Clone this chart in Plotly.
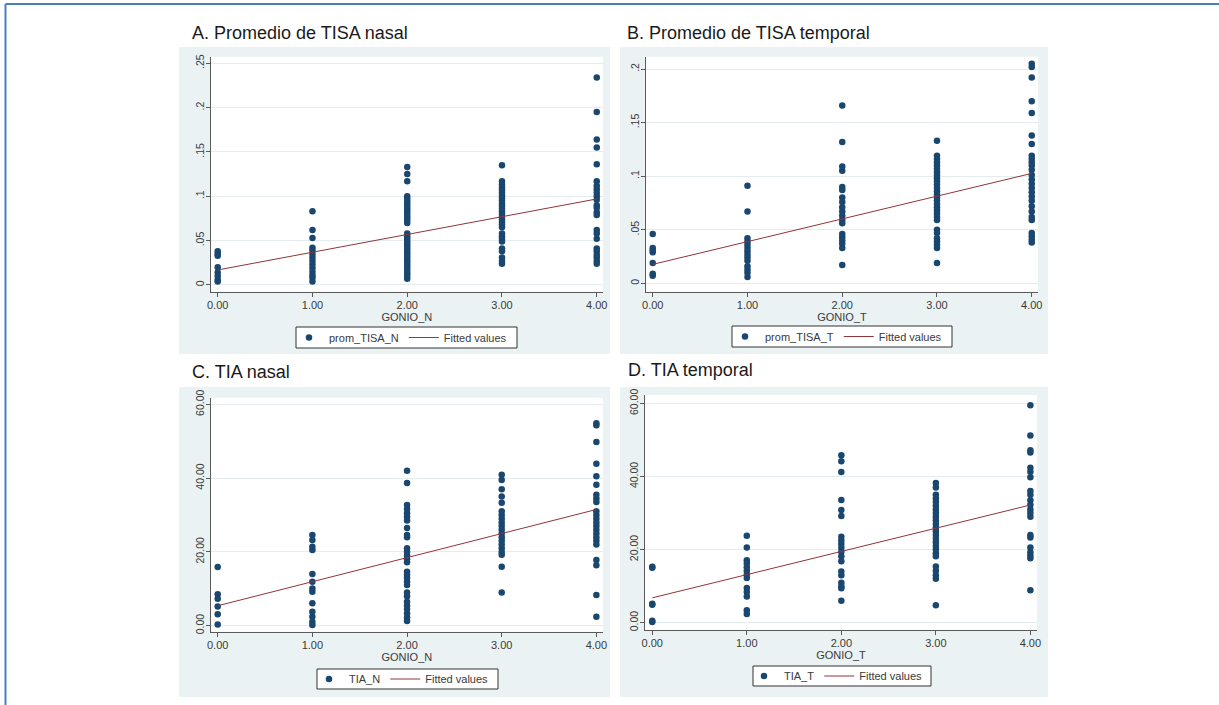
import plotly.graph_objects as go

W, H = 1219, 705

# ---------------- data ----------------
gonio_levels = [0, 1, 2, 3, 4]
x_tick_text = ["0.00", "1.00", "2.00", "3.00", "4.00"]

panel_titles = ["A. Promedio de TISA nasal", "B. Promedio de TISA temporal",
                "C. TIA nasal", "D. TIA temporal"]
x_titles = ["GONIO_N", "GONIO_T", "GONIO_N", "GONIO_T"]
series_names = ["prom_TISA_N", "prom_TISA_T", "TIA_N", "TIA_T"]
fit_name = "Fitted values"

# y ticks
tisa_n_ticks = [0, 0.05, 0.10, 0.15, 0.20, 0.25]
tisa_n_ticktext = ["0", ".05", ".1", ".15", ".2", ".25"]
tisa_t_ticks = [0, 0.05, 0.10, 0.15, 0.20]
tisa_t_ticktext = ["0", ".05", ".1", ".15", ".2"]
tia_ticks = [0, 20, 40, 60]
tia_ticktext = ["0.00", "20.00", "40.00", "60.00"]

# Panel A: prom_TISA_N by GONIO_N
a_g0 = [0.038, 0.035, 0.033, 0.020, 0.014, 0.010, 0.006, 0.004]
a_g1 = [0.083, 0.062, 0.053, 0.042, 0.039, 0.035, 0.031, 0.027, 0.023, 0.019,
        0.015, 0.011, 0.008, 0.004]
a_g2 = [0.133, 0.125, 0.117, 0.100, 0.097, 0.094, 0.091, 0.088, 0.085, 0.082,
        0.079, 0.076, 0.073, 0.070, 0.058, 0.055, 0.052, 0.049, 0.046, 0.043,
        0.040, 0.037, 0.034, 0.031, 0.028, 0.025, 0.022, 0.019, 0.016, 0.013,
        0.010, 0.007]
a_g3 = [0.135, 0.117, 0.113, 0.110, 0.107, 0.104, 0.101, 0.098, 0.095, 0.092,
        0.089, 0.086, 0.083, 0.080, 0.077, 0.074, 0.071, 0.068, 0.065, 0.058,
        0.055, 0.052, 0.049, 0.041, 0.038, 0.031, 0.027, 0.024]
a_g4 = [0.234, 0.195, 0.164, 0.155, 0.136, 0.117, 0.112, 0.108, 0.104, 0.100,
        0.096, 0.090, 0.087, 0.082, 0.079, 0.062, 0.058, 0.052, 0.041, 0.038,
        0.034, 0.031, 0.027, 0.024]
fit_a = [0.0169, 0.0970]

# Panel B: prom_TISA_T by GONIO_T
b_g0 = [0.046, 0.033, 0.031, 0.029, 0.019, 0.009, 0.007]
b_g1 = [0.091, 0.067, 0.042, 0.039, 0.036, 0.033, 0.030, 0.027, 0.024, 0.021,
        0.016, 0.013, 0.010, 0.006]
b_g2 = [0.166, 0.132, 0.109, 0.105, 0.090, 0.087, 0.080, 0.076, 0.071, 0.067,
        0.063, 0.059, 0.056, 0.046, 0.043, 0.040, 0.037, 0.033, 0.017]
b_g3 = [0.133, 0.119, 0.116, 0.113, 0.110, 0.107, 0.104, 0.101, 0.098, 0.095,
        0.092, 0.089, 0.086, 0.083, 0.080, 0.077, 0.074, 0.071, 0.068, 0.065,
        0.062, 0.059, 0.050, 0.047, 0.042, 0.039, 0.036, 0.033, 0.019]
b_g4 = [0.205, 0.202, 0.192, 0.170, 0.159, 0.138, 0.130, 0.119, 0.116, 0.113,
        0.110, 0.106, 0.101, 0.097, 0.093, 0.089, 0.085, 0.081, 0.077, 0.072,
        0.067, 0.062, 0.059, 0.047, 0.044, 0.041, 0.038]
fit_b = [0.0177, 0.1026]

# Panel C: TIA_N by GONIO_N
c_g0 = [15.9, 8.5, 7.3, 5.2, 3.1, 0.3]
c_g1 = [24.6, 23.2, 21.4, 20.5, 14.0, 11.9, 10.1, 9.2, 6.1, 3.8, 2.4, 1.1, 0.2]
c_g2 = [42.0, 38.7, 32.7, 31.6, 30.5, 29.5, 28.5, 26.5, 24.6, 24.0, 21.0, 20.0,
        19.0, 18.0, 17.2, 14.6, 13.8, 13.0, 12.0, 11.0, 9.0, 8.0, 6.5, 5.5, 4.5,
        3.3, 2.2, 1.3]
c_g3 = [40.9, 39.5, 37.0, 35.0, 33.3, 31.0, 30.0, 29.0, 28.0, 27.0, 26.0, 25.0,
        24.0, 23.0, 22.0, 21.0, 20.0, 19.2, 16.0, 9.0]
c_g4 = [54.9, 54.3, 49.8, 43.9, 40.5, 38.2, 35.5, 34.5, 33.5, 31.0, 30.0, 29.0,
        28.0, 27.0, 26.0, 25.0, 24.0, 23.0, 22.0, 17.8, 16.4, 8.3, 2.4]
fit_c = [5.4, 31.5]

# Panel D: TIA_T by GONIO_T
d_g0 = [15.3, 15.0, 5.2, 4.9, 0.5, 0.2]
d_g1 = [23.8, 20.6, 17.1, 16.2, 15.2, 14.2, 13.2, 12.2, 9.5, 8.4, 7.2, 3.4, 2.4]
d_g2 = [45.8, 44.2, 41.2, 33.6, 30.8, 29.2, 23.5, 22.5, 21.5, 20.5, 19.4, 18.2,
        16.8, 14.0, 13.0, 10.9, 10.0, 9.4, 6.0]
d_g3 = [38.2, 37.0, 35.0, 34.0, 33.0, 32.0, 31.0, 30.0, 29.0, 28.0, 27.0, 26.0,
        25.0, 24.0, 23.0, 22.0, 21.0, 20.0, 19.0, 18.2, 15.4, 14.2, 13.0, 12.0, 4.8]
d_g4 = [59.5, 51.2, 47.2, 46.6, 42.4, 41.3, 39.8, 36.0, 35.0, 33.5, 32.3, 31.0,
        30.0, 29.0, 24.0, 23.3, 20.6, 19.3, 18.4, 17.6, 8.9]
fit_d = [6.8, 32.2]

# ---------------- layout geometry (pixels) ----------------
FONT = "Liberation Sans, Arial, Helvetica, sans-serif"
NAVY = "#1a476f"
MAROON = "#90353b"
REGION = "#eaf2f3"
AXIS = "#5a5a5a"
TXT = "#3a3a3a"

panels = [
    dict(groups=[a_g0, a_g1, a_g2, a_g3, a_g4], fit=fit_a,
         plot=(210.7, 56.7, 603, 291.7), region=(179, 47, 610, 354),
         xr=[-0.074, 4.066], yr=[-0.0076, 0.2574],
         yt=tisa_n_ticks, ytt=tisa_n_ticktext,
         title_xy=(190, 33), legend_box=(296, 327, 517, 348)),
    dict(groups=[b_g0, b_g1, b_g2, b_g3, b_g4], fit=fit_b,
         plot=(646, 56.7, 1038, 291.7), region=(620, 47, 1048, 354),
         xr=[-0.071, 4.066], yr=[-0.0078, 0.2115],
         yt=tisa_t_ticks, ytt=tisa_t_ticktext,
         title_xy=(625, 33), legend_box=(732, 326, 952, 347)),
    dict(groups=[c_g0, c_g1, c_g2, c_g3, c_g4], fit=fit_c,
         plot=(210.7, 397.7, 603, 631.7), region=(179, 387, 610, 697),
         xr=[-0.074, 4.07], yr=[-1.63, 61.8],
         yt=tia_ticks, ytt=tia_ticktext,
         title_xy=(190, 372), legend_box=(317, 669, 498, 689)),
    dict(groups=[d_g0, d_g1, d_g2, d_g3, d_g4], fit=fit_d,
         plot=(645, 395, 1037, 630), region=(620, 387, 1048, 697),
         xr=[-0.077, 4.07], yr=[-2.0, 62.3],
         yt=tia_ticks, ytt=tia_ticktext,
         title_xy=(626, 370), legend_box=(753, 666, 931, 686)),
]

fig = go.Figure()
shapes = []
annotations = []
layout = {}

for i, p in enumerate(panels):
    n = i + 1
    sfx = "" if n == 1 else str(n)
    xa, ya = "x" + sfx, "y" + sfx
    leg = "legend" + sfx

    xs, ys = [], []
    for lvl, vals in zip(gonio_levels, p["groups"]):
        xs += [lvl] * len(vals)
        ys += vals

    fig.add_trace(go.Scatter(
        x=xs, y=ys, mode="markers", name=series_names[i],
        marker=dict(color=NAVY, size=6.5, line=dict(width=0)),
        xaxis=xa, yaxis=ya, legend=leg))
    fig.add_trace(go.Scatter(
        x=[gonio_levels[0], gonio_levels[-1]], y=p["fit"], mode="lines",
        name=fit_name, line=dict(color=MAROON, width=1),
        xaxis=xa, yaxis=ya, legend=leg))

    l, t, r, b = p["plot"]
    layout["xaxis" + sfx] = dict(
        domain=[l / W, r / W], anchor=ya, range=p["xr"], automargin=False,
        tickvals=gonio_levels, ticktext=x_tick_text,
        showgrid=False, zeroline=False, showline=True, linecolor=AXIS, linewidth=1,
        ticks="outside", ticklen=4, tickcolor=AXIS, tickwidth=1,
        ticklabelstandoff=-1,
        tickfont=dict(family=FONT, size=11, color=TXT),
        title=dict(text=x_titles[i], font=dict(family=FONT, size=11, color=TXT), standoff=0),
        fixedrange=True)
    layout["yaxis" + sfx] = dict(
        domain=[1 - b / H, 1 - t / H], anchor=xa, range=p["yr"], automargin=False,
        tickvals=p["yt"], ticktext=p["ytt"], tickangle=-90,
        showgrid=True, gridcolor="#e4ecef", gridwidth=1,
        zeroline=False, showline=True, linecolor=AXIS, linewidth=1,
        ticks="outside", ticklen=4, tickcolor=AXIS, tickwidth=1,
        ticklabelstandoff=-2,
        tickfont=dict(family=FONT, size=10.5, color=TXT),
        fixedrange=True)

    # legend: box drawn as a shape, legend items centred in it
    bl, bt, br, bb = p["legend_box"]
    shapes.append(dict(type="rect", xref="paper", yref="paper",
                       x0=bl / W, x1=br / W, y0=1 - bb / H, y1=1 - bt / H,
                       fillcolor="white", line=dict(color="#333333", width=1),
                       layer="above"))
    layout[leg] = dict(
        orientation="h", x=((bl + br) / 2 - 6) / W, xanchor="center",
        y=1 - ((bt + bb) / 2) / H, yanchor="middle",
        bgcolor="rgba(0,0,0,0)", borderwidth=0,
        font=dict(family=FONT, size=11, color=TXT),
        itemwidth=30, tracegroupgap=0)

    rl, rt, rr, rb = p["region"]
    shapes.append(dict(type="rect", xref="paper", yref="paper",
                       x0=rl / W, x1=rr / W, y0=1 - rb / H, y1=1 - rt / H,
                       fillcolor=REGION, line=dict(width=0), layer="below"))
    shapes.append(dict(type="rect", xref=xa + " domain", yref=ya + " domain",
                       x0=0, x1=1, y0=0, y1=1,
                       fillcolor="white", line=dict(width=0), layer="below"))

    tx, ty = p["title_xy"]
    annotations.append(dict(text=panel_titles[i], xref="paper", yref="paper",
                            x=tx / W, y=1 - ty / H, xanchor="left", yanchor="middle",
                            showarrow=False,
                            font=dict(family=FONT, size=18, color="#1a1a1a")))

# outer frame (top and left edges)
shapes.append(dict(type="line", xref="paper", yref="paper",
                   x0=5.5 / W, x1=1, y0=1 - 4 / H, y1=1 - 4 / H,
                   line=dict(color="#4a7ebb", width=2)))
shapes.append(dict(type="line", xref="paper", yref="paper",
                   x0=5.5 / W, x1=5.5 / W, y0=0, y1=1 - 4 / H,
                   line=dict(color="#4a7ebb", width=2)))

fig.update_layout(
    template="none",
    width=W, height=H, autosize=False,
    margin=dict(l=0, r=0, t=0, b=0, pad=0, autoexpand=False),
    paper_bgcolor="white", plot_bgcolor="white",
    showlegend=True, shapes=shapes, annotations=annotations,
    font=dict(family=FONT),
    **layout)

fig.write_html("out.html", config={"displayModeBar": False},
               post_script="document.body.style.margin='0px';document.body.style.overflow='hidden';")
